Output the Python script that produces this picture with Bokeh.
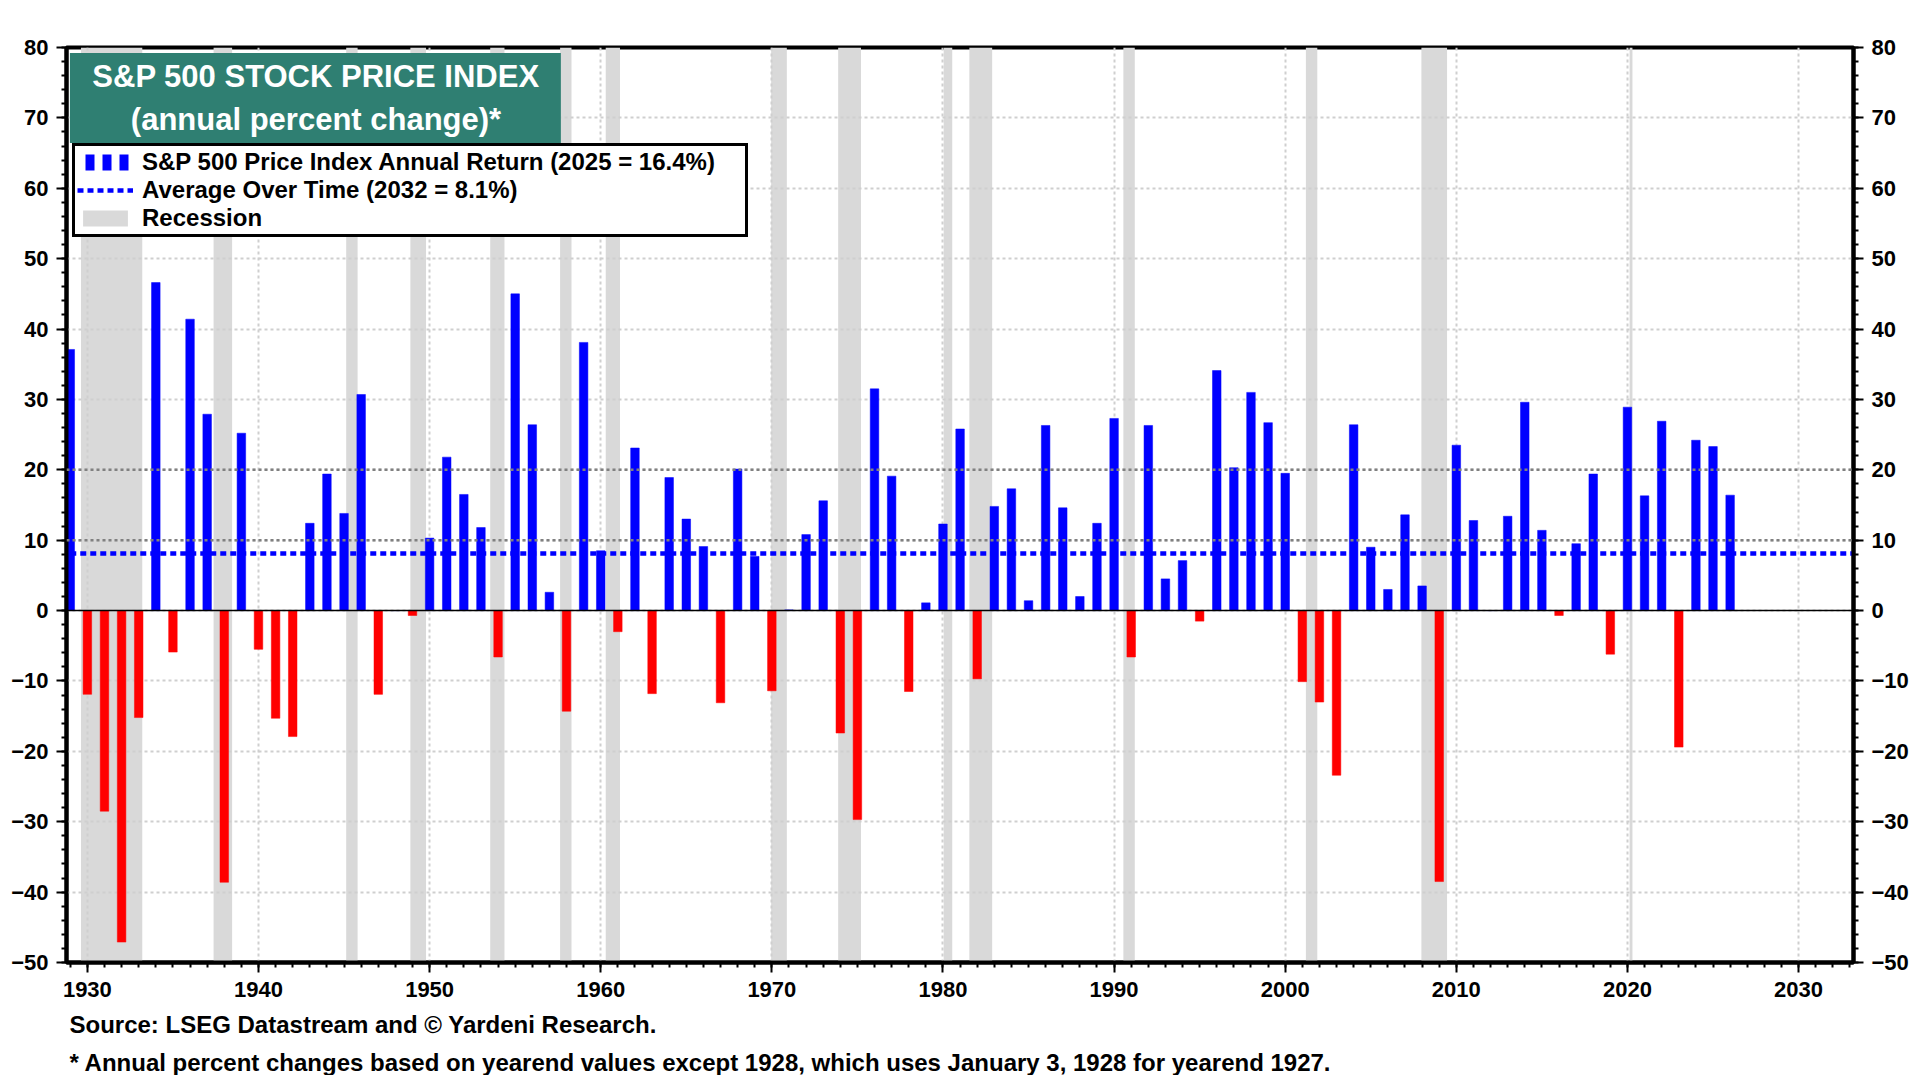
from bokeh.plotting import figure
from bokeh.models import (Range1d, FixedTicker, LinearAxis, Span, BoxAnnotation, Label,
                          Legend, LegendItem, Title, ColumnDataSource)
from bokeh.embed import file_html
from bokeh.resources import INLINE

# ---------------- data ----------------
years = list(range(1928, 2026))
returns = [37.1, -11.9, -28.5, -47.1, -15.2, 46.6, -5.9, 41.4, 27.9, -38.6,
           25.2, -5.5, -15.3, -17.9, 12.4, 19.4, 13.8, 30.7, -11.9, 0.0,
           -0.7, 10.3, 21.8, 16.5, 11.8, -6.6, 45.0, 26.4, 2.6, -14.3,
           38.1, 8.5, -3.0, 23.1, -11.8, 18.9, 13.0, 9.1, -13.1, 20.1,
           7.7, -11.4, 0.1, 10.8, 15.6, -17.4, -29.7, 31.5, 19.1, -11.5,
           1.1, 12.3, 25.8, -9.7, 14.8, 17.3, 1.4, 26.3, 14.6, 2.0,
           12.4, 27.3, -6.6, 26.3, 4.5, 7.1, -1.5, 34.1, 20.3, 31.0,
           26.7, 19.5, -10.1, -13.0, -23.4, 26.4, 9.0, 3.0, 13.6, 3.5,
           -38.5, 23.5, 12.8, 0.0, 13.4, 29.6, 11.4, -0.7, 9.5, 19.4,
           -6.2, 28.9, 16.3, 26.9, -19.4, 24.2, 23.3, 16.4]

avg_years = [1929.0, 2033.2]
avg_values = [8.1, 8.1]

# NBER recessions (peak year/month -> trough year/month)
rec_start_year = [1929, 1937, 1945, 1948, 1953, 1957, 1960, 1969, 1973, 1980, 1981, 1990, 2001, 2007, 2020]
rec_start_month = [8, 5, 2, 11, 7, 8, 4, 12, 11, 1, 7, 7, 3, 12, 2]
rec_end_year = [1933, 1938, 1945, 1949, 1954, 1958, 1961, 1970, 1975, 1980, 1982, 1991, 2001, 2009, 2020]
rec_end_month = [3, 6, 10, 10, 5, 4, 2, 11, 3, 7, 11, 3, 11, 6, 4]

x_major = list(range(1930, 2031, 10))
x_minor = list(range(1929, 2034))
y_major = list(range(-50, 81, 10))
y_minor = list(range(-50, 81, 2))

title_line1 = "S&P 500 STOCK PRICE INDEX"
title_line2 = "(annual percent change)*"
legend_bars = "S&P 500 Price Index Annual Return (2025 = 16.4%)"
legend_avg = "Average Over Time (2032 = 8.1%)"
legend_rec = "Recession"
source_text = "Source: LSEG Datastream and \u00a9 Yardeni Research."
foot_text = "* Annual percent changes based on yearend values except 1928, which uses January 3, 1928 for yearend 1927."

# ---------------- figure ----------------
FONT = "Liberation Sans"
BLUE = "#0000FF"
RED = "#FF0000"
NAN = float("nan")

p = figure(frame_width=1787, frame_height=915,
           x_range=Range1d(1928.78, 2033.21), y_range=Range1d(-50, 80),
           output_backend="svg", toolbar_location=None,
           min_border_left=66, min_border_right=52, min_border_top=47, min_border_bottom=0,
           background_fill_color="white", border_fill_color="white")
p.outline_line_color = "black"
p.outline_line_width = 4

# recession shading
rec_left = [y + (m - 0.5) / 12 for y, m in zip(rec_start_year, rec_start_month)]
rec_right = [y + (m - 0.5) / 12 for y, m in zip(rec_end_year, rec_end_month)]
rec_src = ColumnDataSource(dict(left=rec_left, right=rec_right,
                                bottom=[-50] * len(rec_left), top=[80] * len(rec_left)))
r_rec = p.quad(left="left", right="right", bottom="bottom", top="top", source=rec_src,
               fill_color="#D9D9D9", line_color=None, level="image")

# bars, plotted at year-end
bar_src = ColumnDataSource(dict(x=[y + 1 for y in years], top=returns,
                                color=[BLUE if v >= 0 else RED for v in returns]))
r_bars = p.vbar(x="x", top="top", bottom=0, width=0.5, source=bar_src,
                fill_color="color", line_color="color", line_width=0.5)

# zero line and emphasized levels
p.add_layout(Span(location=0, dimension="width", line_color="black", line_width=1.5))
for lvl in (10, 20):
    p.add_layout(Span(location=lvl, dimension="width", line_color="#808080",
                      line_width=2.5, line_dash="3 3"))

# average line
r_avg = p.line(x=avg_years, y=avg_values, line_color=BLUE, line_width=4.5, line_dash="6 4")

# legend-only glyph imitating the bar icon (three blocks); draws nothing on the plot
r_icon = p.line(x=[NAN, NAN], y=[NAN, NAN], line_color=BLUE, line_width=16,
                line_dash="9 8", line_dash_offset=9)

# ---------------- axes ----------------
p.xaxis.ticker = FixedTicker(ticks=x_major, minor_ticks=x_minor)
p.yaxis.ticker = FixedTicker(ticks=y_major, minor_ticks=y_minor)
right_axis = LinearAxis(ticker=FixedTicker(ticks=y_major, minor_ticks=y_minor))
p.add_layout(right_axis, "right")

for ax in p.axis:
    ax.axis_line_color = "black"
    ax.axis_line_width = 4
    ax.major_tick_line_color = "black"
    ax.major_tick_line_width = 2
    ax.major_tick_in = 0
    ax.major_tick_out = 10
    ax.minor_tick_line_color = "black"
    ax.minor_tick_line_width = 2
    ax.minor_tick_in = 0
    ax.minor_tick_out = 5
    ax.major_label_text_font = FONT
    ax.major_label_text_font_style = "bold"
    ax.major_label_text_font_size = "22px"
    ax.major_label_text_color = "black"
    ax.major_label_standoff = 8

p.xaxis.major_label_standoff = 9

p.xgrid.ticker = FixedTicker(ticks=x_major)
p.ygrid.ticker = FixedTicker(ticks=y_major)
for g in (p.xgrid, p.ygrid):
    g.grid_line_color = "#CFCFCF"
    g.grid_line_width = 2
    g.grid_line_dash = "3 3"

# ---------------- title box ----------------
p.add_layout(BoxAnnotation(left=1928.98, right=1957.67, top=79.22, bottom=66.43,
                           fill_color="#2F7F72", fill_alpha=1, line_alpha=0))
p.add_layout(Label(x=1943.36, y=75.95, text=title_line1, text_align="center",
                   text_baseline="middle", text_color="white", text_font=FONT,
                   text_font_style="bold", text_font_size="31px"))
p.add_layout(Label(x=1943.36, y=69.84, text=title_line2, text_align="center",
                   text_baseline="middle", text_color="white", text_font=FONT,
                   text_font_style="bold", text_font_size="31px"))

# ---------------- legend ----------------
legend = Legend(items=[LegendItem(label=legend_bars, renderers=[r_icon]),
                       LegendItem(label=legend_avg, renderers=[r_avg]),
                       LegendItem(label=legend_rec, renderers=[r_rec])],
                location=(6, 725), orientation="vertical",
                label_text_font=FONT, label_text_font_style="bold",
                label_text_font_size="24px", label_text_color="black",
                border_line_color="black", border_line_width=3, border_line_alpha=1,
                background_fill_color="white", background_fill_alpha=1,
                padding=2, spacing=0, margin=0, glyph_width=56, glyph_height=20,
                label_height=26, label_standoff=9, label_width=601)
p.add_layout(legend)

# ---------------- footer ----------------
p.add_layout(Title(text=source_text, align="left", offset=3, standoff=18,
                   text_font=FONT, text_font_style="bold", text_font_size="24px",
                   text_color="black"), "below")
p.add_layout(Title(text=foot_text, align="left", offset=3, standoff=0,
                   text_font=FONT, text_font_style="bold", text_font_size="24px",
                   text_color="black"), "below")

open("out.html", "w").write(file_html(p, INLINE))
